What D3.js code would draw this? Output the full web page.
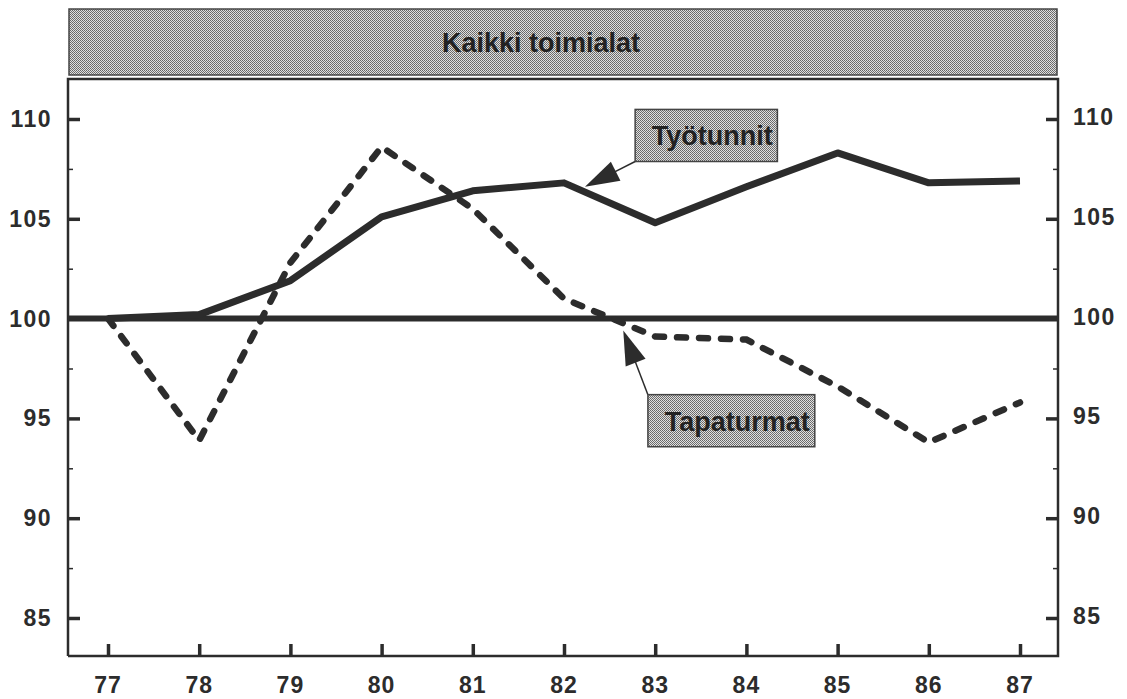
<!DOCTYPE html>
<meta charset="utf-8">
<html>
<head>
  <title>Kaikki toimialat</title>
  <style>
    body { margin: 0; background: #fff; }
    text { font-family: "Liberation Sans", Arial, sans-serif; font-weight: bold; }
  </style>
</head>
<body>
  <script src="https://d3js.org/d3.v7.min.js"></script>
  <div id="chart"></div>
  <script>
    // years on the x axis (19xx)
    var years = [77, 78, 79, 80, 81, 82, 83, 84, 85, 86, 87];
    // index, 1977 = 100
    var tyotunnit = [100.0, 100.2, 101.9, 105.1, 106.4, 106.8, 104.8, 106.6, 108.3, 106.8, 106.9];
    var tapaturmat = [100.0, 93.9, 102.8, 108.6, 105.5, 101.0, 99.1, 98.95, 96.6, 93.8, 95.8];
    var yTicks = [85, 90, 95, 100, 105, 110];
    var yMinor = [87.5, 92.5, 97.5, 102.5, 107.5];
    var title = "Kaikki toimialat";
    // annotation boxes: [label, tip x, tip y, box x0, box y0, box x1, box y1] in data units
    var notes = [
      ["Työtunnit", 82.23, 106.6, 82.78, 110.48, 84.34, 107.87],
      ["Tapaturmat", 82.65, 99.4, 82.92, 96.19, 84.75, 93.58]
    ];

    var W = 1127, H = 699;
    var box = { left: 68, right: 1058, top: 79, bottom: 656 };
    var ink = "#2c2c2c";

    var svg = d3.select("#chart").append("svg")
      .attr("width", W)
      .attr("height", H);

    // dotted grey screen used for the title and the labels
    var pat = svg.append("defs").append("pattern")
      .attr("id", "screen")
      .attr("width", 2).attr("height", 2)
      .attr("patternUnits", "userSpaceOnUse");
    pat.append("rect").attr("width", 2).attr("height", 2).attr("fill", "#e0e0e0");
    pat.append("rect").attr("width", 1).attr("height", 1).attr("fill", "#666");
    pat.append("rect").attr("x", 1).attr("y", 1).attr("width", 1).attr("height", 1).attr("fill", "#737373");

    var x = d3.scaleLinear().domain([77, 87]).range([108, 1020]);
    var y = d3.scaleLinear().domain([85, 110]).range([618, 119]);

    // title band
    svg.append("rect")
      .attr("x", box.left + 1).attr("y", 9)
      .attr("width", box.right - box.left - 2).attr("height", 66)
      .attr("fill", "url(#screen)")
      .attr("stroke", "#444").attr("stroke-width", 1.5);
    svg.append("text")
      .attr("x", 541).attr("y", 52)
      .attr("text-anchor", "middle")
      .attr("font-size", 27)
      .attr("fill", "#222")
      .text(title);

    // plot frame: top, left, right, bottom
    svg.append("path")
      .attr("d", "M" + box.left + "," + box.bottom + "V" + box.top + "H" + box.right + "V" + box.bottom + "H" + box.left)
      .attr("fill", "none")
      .attr("stroke", ink)
      .attr("stroke-width", 2.5);

    // left axis, ticks inside
    var yl = svg.append("g").attr("transform", "translate(" + box.left + ",0)")
      .call(d3.axisRight(y).tickValues(yTicks).tickSize(12).tickFormat(""));
    yl.select(".domain").remove();
    yl.selectAll(".tick line").attr("stroke", ink).attr("stroke-width", 3.5);
    var ylm = svg.append("g").attr("transform", "translate(" + box.left + ",0)")
      .call(d3.axisRight(y).tickValues(yMinor).tickSize(5).tickFormat(""));
    ylm.select(".domain").remove();
    ylm.selectAll(".tick line").attr("stroke", ink).attr("stroke-width", 1.5);

    svg.selectAll(".ylab").data(yTicks).enter().append("text")
      .attr("class", "ylab")
      .attr("x", 52).attr("y", function (d) { return y(d) + 8; })
      .attr("text-anchor", "end")
      .attr("font-size", 23)
      .attr("letter-spacing", 1.5)
      .attr("fill", ink)
      .text(function (d) { return d; });

    // right axis, same scale
    var yr = svg.append("g").attr("transform", "translate(" + box.right + ",0)")
      .call(d3.axisLeft(y).tickValues(yTicks).tickSize(12).tickFormat(""));
    yr.select(".domain").remove();
    yr.selectAll(".tick line").attr("stroke", ink).attr("stroke-width", 3.5);
    var yrm = svg.append("g").attr("transform", "translate(" + box.right + ",0)")
      .call(d3.axisLeft(y).tickValues(yMinor).tickSize(5).tickFormat(""));
    yrm.select(".domain").remove();
    yrm.selectAll(".tick line").attr("stroke", ink).attr("stroke-width", 1.5);

    svg.selectAll(".yrlab").data(yTicks).enter().append("text")
      .attr("class", "yrlab")
      .attr("x", 1073).attr("y", function (d) { return y(d) + 6; })
      .attr("font-size", 23)
      .attr("letter-spacing", 1.5)
      .attr("fill", ink)
      .text(function (d) { return d; });

    // bottom axis, ticks pointing up
    var xa = svg.append("g").attr("transform", "translate(0," + box.bottom + ")")
      .call(d3.axisTop(x).tickValues(years).tickSize(12).tickFormat(""));
    xa.select(".domain").remove();
    xa.selectAll(".tick line").attr("stroke", ink).attr("stroke-width", 3.5);

    svg.selectAll(".xlab").data(years).enter().append("text")
      .attr("class", "xlab")
      .attr("x", function (d) { return x(d); })
      .attr("y", 693)
      .attr("text-anchor", "middle")
      .attr("font-size", 23)
      .attr("letter-spacing", 1)
      .attr("fill", ink)
      .text(function (d) { return d; });

    // base line at 100
    svg.append("line")
      .attr("x1", box.left).attr("x2", box.right)
      .attr("y1", y(100)).attr("y2", y(100))
      .attr("stroke", ink).attr("stroke-width", 6);

    var line = d3.line()
      .x(function (d) { return x(d[0]); })
      .y(function (d) { return y(d[1]); });

    svg.append("path")
      .datum(d3.zip(years, tapaturmat))
      .attr("d", line)
      .attr("fill", "none")
      .attr("stroke", ink)
      .attr("stroke-width", 6.5)
      .attr("stroke-linecap", "round")
      .attr("stroke-dasharray", "9,13");

    svg.append("path")
      .datum(d3.zip(years, tyotunnit))
      .attr("d", line)
      .attr("fill", "none")
      .attr("stroke", ink)
      .attr("stroke-width", 7)
      .attr("stroke-linejoin", "round");

    // annotation boxes with arrows
    notes.forEach(function (n) {
      var tx = x(n[1]), ty = y(n[2]);
      var bx0 = x(n[3]), by0 = y(n[4]), bx1 = x(n[5]), by1 = y(n[6]);
      // arrow starts at the box corner nearest the tip
      var sx = bx0, sy = ty < by0 ? by0 : by1;
      var ang = Math.atan2(sy - ty, sx - tx);
      var len = 36, half = 0.3;
      var p1 = [tx + len * Math.cos(ang - half), ty + len * Math.sin(ang - half)];
      var p2 = [tx + len * Math.cos(ang + half), ty + len * Math.sin(ang + half)];
      svg.append("line")
        .attr("x1", sx).attr("y1", sy)
        .attr("x2", tx + 30 * Math.cos(ang)).attr("y2", ty + 30 * Math.sin(ang))
        .attr("stroke", ink).attr("stroke-width", 1.5);
      svg.append("path")
        .attr("d", "M" + tx + "," + ty + "L" + p1 + "L" + p2 + "Z")
        .attr("fill", ink);
      svg.append("rect")
        .attr("x", bx0).attr("y", by0)
        .attr("width", bx1 - bx0).attr("height", by1 - by0)
        .attr("fill", "url(#screen)")
        .attr("stroke", "#444").attr("stroke-width", 1.5);
      svg.append("text")
        .attr("x", (bx0 + bx1) / 2 + 6).attr("y", (by0 + by1) / 2 + 10)
        .attr("text-anchor", "middle")
        .attr("font-size", 27)
        .attr("fill", "#222")
        .text(n[0]);
    });
  </script>
</body>
</html>
